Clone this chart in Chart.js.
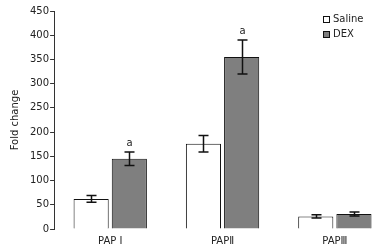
<!DOCTYPE html>
<html><head><meta charset="utf-8">
<script src="https://cdn.jsdelivr.net/npm/chart.js@4/dist/chart.umd.min.js"></script>
<style>html,body{margin:0;padding:0;background:#fff;overflow:hidden;width:382px;height:252px}canvas{display:block}</style>
</head><body>
<canvas id="c" width="391" height="252"></canvas>
<script>
const categories = ['PAP Ⅰ', 'PAPⅡ', 'PAPⅢ'];
const salineValues = [62, 176, 26];
const salineErrors = [7, 17, 3.5];
const dexValues = [145, 355, 31];
const dexErrors = [14, 35, 4];
const dexMarks = ['a', 'a', ''];
const yTicks = [0, 50, 100, 150, 200, 250, 300, 350, 400, 450];
const seriesNames = ['Saline', 'DEX'];

Chart.defaults.font.family = 'DejaVu Sans';
Chart.defaults.font.size = 10;
Chart.defaults.color = '#222';

const errors = [salineErrors, dexErrors];
const marks = [null, dexMarks];

const errorBarPlugin = {
  id: 'errorBars',
  afterDatasetsDraw(chart) {
    const ctx = chart.ctx;
    const y = chart.scales.y;
    ctx.save();
    ctx.strokeStyle = '#111';
    ctx.lineWidth = 1.5;
    chart.data.datasets.forEach((ds, di) => {
      const meta = chart.getDatasetMeta(di);
      meta.data.forEach((bar, i) => {
        const v = ds.data[i], e = errors[di][i];
        const x = Math.round(bar.x) + 0.5;
        const yt = y.getPixelForValue(v + e), yb = y.getPixelForValue(v - e);
        const hw = 5;
        ctx.beginPath();
        ctx.moveTo(x, yt); ctx.lineTo(x, yb);
        ctx.moveTo(x - hw, yt); ctx.lineTo(x + hw, yt);
        ctx.moveTo(x - hw, yb); ctx.lineTo(x + hw, yb);
        ctx.stroke();
        if (marks[di] && marks[di][i]) {
          ctx.fillStyle = '#222';
          ctx.font = '10px "DejaVu Sans"';
          ctx.textAlign = 'center';
          ctx.textBaseline = 'bottom';
          ctx.fillText(marks[di][i], x, yt - 4);
        }
      });
    });
    ctx.restore();
  }
};

const legendPlugin = {
  id: 'boxLegend',
  afterDraw(chart) {
    const ctx = chart.ctx;
    ctx.save();
    ctx.font = '10px "DejaVu Sans"';
    ctx.textBaseline = 'middle';
    ctx.textAlign = 'left';
    chart.data.datasets.forEach((ds, di) => {
      const bx = 323, by = 16 + di * 15;
      ctx.fillStyle = ds.backgroundColor;
      ctx.fillRect(bx, by, 7, 7);
      ctx.strokeStyle = '#111';
      ctx.lineWidth = 1;
      ctx.strokeRect(bx + 0.5, by + 0.5, 6, 6);
      ctx.fillStyle = '#222';
      ctx.fillText(ds.label, bx + 10, by + 3.5);
    });
    ctx.restore();
  }
};

new Chart(document.getElementById('c'), {
  type: 'bar',
  data: {
    labels: categories,
    datasets: [
      { label: seriesNames[0], data: salineValues, backgroundColor: '#ffffff', borderColor: '#111', borderWidth: 1 },
      { label: seriesNames[1], data: dexValues, backgroundColor: '#7f7f7f', borderColor: '#111', borderWidth: 1 }
    ]
  },
  options: {
    responsive: false,
    animation: false,
    devicePixelRatio: 1,
    layout: { padding: { left: 9, top: 11, right: 0, bottom: -1 } },
    datasets: { bar: { categoryPercentage: 0.68, barPercentage: 0.92 } },
    plugins: { legend: { display: false }, tooltip: { enabled: false } },
    scales: {
      x: {
        grid: { display: false, drawTicks: false },
        border: { display: false },
        ticks: { padding: 6, color: '#222' }
      },
      y: {
        min: 0, max: 450,
        afterBuildTicks: (s) => { s.ticks = yTicks.map(v => ({ value: v })); },
        grid: { drawOnChartArea: false, drawTicks: true, tickLength: 4, color: '#333' },
        border: { display: true, color: '#333', width: 1 },
        ticks: { padding: 1, color: '#222' },
        title: { display: true, text: 'Fold change', padding: { top: 0, bottom: 8 }, color: '#222' }
      }
    }
  },
  plugins: [errorBarPlugin, legendPlugin]
});
</script>
</body></html>
